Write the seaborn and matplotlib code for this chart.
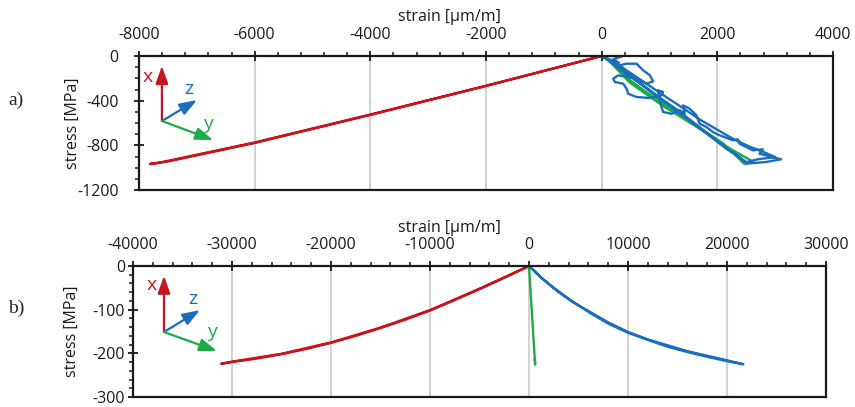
import numpy as np
import pandas as pd
import matplotlib
matplotlib.use("Agg")
import matplotlib.pyplot as plt
from matplotlib.ticker import MultipleLocator
import seaborn as sns

# ---- a) strain-stress loops, strain in µm/m, stress in MPa ----
a_strain_x = [0, -2000, -4000, -6000, -7500, -7810, -7650, -6000, -4000, -2000, 0]
a_stress_x = [0, -269, -528, -779, -945, -967, -955, -774, -524, -266, 0]

a_strain_y = [0, 143, 259, 488, 717, 1062, 1407, 1752, 2096, 2470,
              2614, 2212, 1638, 1062, 488, 86, 0]
a_stress_y = [0, -36, -96, -215, -304, -424, -543, -663, -782, -967,
              -946, -827, -633, -448, -239, -21, 0]

a_strain_z = [0, 367, 200, 300, 250, 431, 603, 717, 833, 890, 776, 603, 459,
              286, 200, 229, 372, 431, 459, 603, 833, 1034, 1062, 976, 1000,
              1034, 1062, 1207, 1350, 1436, 1407, 1522, 1638, 1695, 1810,
              1924, 2039, 2269, 2355, 2384, 2614, 2786, 2729, 3103, 2845,
              2500,
              2384, 2155, 1867, 1579, 1293, 1121, 833, 603, 372, 200, 86, 0,
              150, 350, 550, 750, 950, 1150, 1300, 1500, 1700, 1900, 2100,
              2300, 2550, 2800, 3000, 2700, 2500, 2200, 1900, 1600, 1300,
              1000, 700, 400, 150, 0]
a_stress_z = [0, 0, -30, -60, -90, -69, -69, -128, -173, -227, -248, -203,
              -188, -173, -203, -233, -248, -293, -338, -367, -376, -352,
              -322, -307, -380, -457, -501, -517, -486, -517, -442, -472,
              -531, -606, -636, -681, -710, -755, -746, -785, -845, -836,
              -875, -925, -949, -964,
              -904, -830, -715, -600, -490, -425, -315, -225, -140, -70,
              -30, 0,
              -35, -100, -170, -240, -310, -380, -430, -500, -570, -630,
              -690, -750, -810, -860, -905, -925, -950, -840, -720, -600,
              -480, -370, -255, -140, -45, 0]

# ---- b) ----
b_strain_x = [0, -2500, -5000, -7500, -10000, -12500, -15000, -17500, -20000,
              -22500, -25000, -27500, -30000, -31100,
              -30000, -25000, -20000, -15000, -10000, -5000, 0]
b_stress_x = [0, -27, -53, -78, -102, -123, -142, -160, -176,
              -190, -202, -212, -220, -224,
              -219, -201, -175, -141, -101, -52, 0]

b_strain_y = [0, 300, 620, 590]
b_stress_y = [0, -110, -226, -213]

b_strain_z = [0, 1200, 2500, 4200, 6200, 8000, 10000, 12100, 14000, 16000,
              18000, 20000, 21650,
              20000, 16000, 12000, 10000, 8000, 6000, 4500, 3000, 1500, 0]
b_stress_z = [0, -26, -50, -78, -108, -132, -153, -170, -185, -197,
              -208, -218, -225,
              -216, -195, -168, -151, -129, -103, -84, -60, -32, 0]

a_xlim, a_ylim = (-8000, 4000), (-1200, 0)
b_xlim, b_ylim = (-40000, 30000), (-300, 0)

RED, GREEN, BLUE = "#C8141E", "#1EAA46", "#1A6EBE"

sns.set_theme(style="ticks")
plt.rcParams["font.family"] = ["Open Sans", "DejaVu Sans"]
plt.rcParams["axes.unicode_minus"] = False
plt.rcParams["axes.edgecolor"] = "#1a1a1a"
plt.rcParams["axes.linewidth"] = 1.6

fig = plt.figure(figsize=(8.55, 4.07), dpi=100)
ax_a = fig.add_axes([139 / 855, 1 - 190 / 407, 694 / 855, 134 / 407])
ax_b = fig.add_axes([133 / 855, 1 - 397 / 407, 693 / 855, 131 / 407])


def draw_paths(ax, paths):
    for sx, sy, col in paths:
        df = pd.DataFrame({"strain": sx, "stress": sy})
        sns.lineplot(data=df, x="strain", y="stress", sort=False,
                     estimator=None, color=col, lw=1.7, ax=ax)


draw_paths(ax_a, [(a_strain_x, a_stress_x, RED),
                  (a_strain_y, a_stress_y, GREEN),
                  (a_strain_z, a_stress_z, BLUE)])
draw_paths(ax_b, [(b_strain_x, b_stress_x, RED),
                  (b_strain_y, b_stress_y, GREEN),
                  (b_strain_z, b_stress_z, BLUE)])


def style_axes(ax, xlim, ylim, xmaj, xmin, ymaj, ymin, ypad, xlabel_x, ylabel_x):
    ax.set_xlim(*xlim)
    ax.set_ylim(*ylim)
    ax.xaxis.set_major_locator(MultipleLocator(xmaj))
    ax.xaxis.set_minor_locator(MultipleLocator(xmin))
    ax.yaxis.set_major_locator(MultipleLocator(ymaj))
    ax.yaxis.set_minor_locator(MultipleLocator(ymin))
    ax.xaxis.tick_top()
    ax.xaxis.set_label_position("top")
    for s in ax.spines.values():
        s.set_visible(True)
        s.set_linewidth(1.6)
    ax.tick_params(which="major", direction="inout", length=7, width=1.3,
                   labelsize=11.5, colors="#1a1a1a")
    ax.tick_params(which="minor", direction="out", length=3, width=1.1,
                   colors="#1a1a1a")
    ax.tick_params(axis="x", which="both", top=True, bottom=False, pad=6)
    ax.tick_params(axis="y", which="both", left=True, right=False, pad=ypad)
    ax.grid(axis="x", which="major", color="#d2d2d2", lw=1.5)
    ax.set_axisbelow(True)
    ax.set_xlabel("strain [µm/m]", fontsize=11.5, color="#1a1a1a")
    ax.set_ylabel("stress [MPa]", fontsize=11.5, color="#1a1a1a")
    ax.xaxis.label.set_verticalalignment("center")
    ax.yaxis.label.set_verticalalignment("center")
    ax.xaxis.set_label_coords(xlabel_x, 1.29)
    ax.yaxis.set_label_coords(ylabel_x, 0.5)


style_axes(ax_a, a_xlim, a_ylim, 2000, 400, 400, 100, 11, 0.448, -0.096)
style_axes(ax_b, b_xlim, b_ylim, 10000, 2000, 100, 20, 2, 0.457, -0.088)


def axis_triad(ax, origin, tips, letters):
    for (tip, col), (pos, txt) in zip(tips, letters):
        ax.annotate("", xy=tip, xytext=origin, xycoords="axes fraction",
                    textcoords="axes fraction",
                    arrowprops=dict(arrowstyle="-|>,head_length=0.7,head_width=0.25",
                                    color=col, lw=1.6, mutation_scale=15,
                                    shrinkA=0, shrinkB=0))
        ax.text(pos[0], pos[1], txt, transform=ax.transAxes, color=col,
                fontsize=14, ha="center", va="center")


axis_triad(ax_a, (0.033, 0.515),
           [((0.033, 0.925), RED), ((0.0836, 0.672), BLUE), ((0.1066, 0.373), GREEN)],
           [((0.013, 0.843), "x"), ((0.072, 0.75), "z"), ((0.0994, 0.49), "y")])
axis_triad(ax_b, (0.0447, 0.496),
           [((0.0447, 0.925), RED), ((0.0967, 0.664), BLUE), ((0.121, 0.351), GREEN)],
           [((0.0274, 0.855), "x"), ((0.0866, 0.75), "z"), ((0.114, 0.494), "y")])

fig.text(16 / 855, 1 - 100 / 407, "a)", family="Liberation Serif", fontsize=14,
         ha="center", va="center")
fig.text(16 / 855, 1 - 308 / 407, "b)", family="Liberation Serif", fontsize=14,
         ha="center", va="center")

fig.savefig("out.png", dpi=100)
